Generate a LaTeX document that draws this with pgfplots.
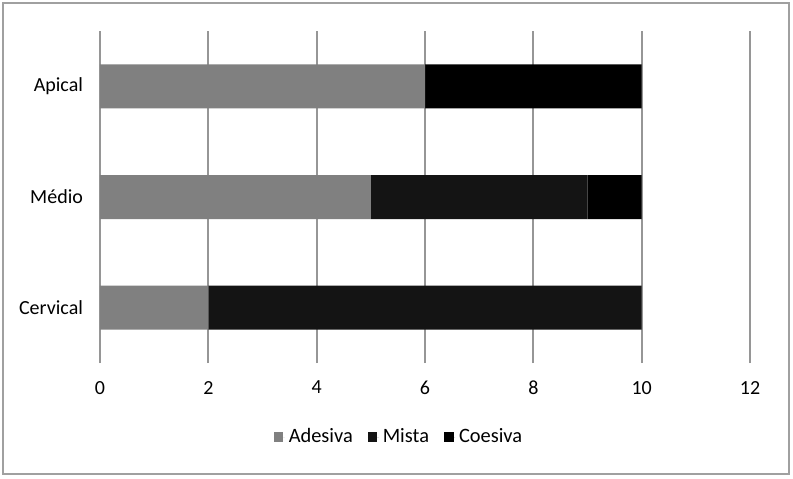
\documentclass[border=0pt]{standalone}
\usepackage{pgfplots}
\pgfplotsset{compat=1.18}
\usepackage{fontspec}
\setmainfont{Carlito}

\definecolor{adesiva}{RGB}{128,128,128}
\definecolor{mista}{RGB}{20,20,20}
\definecolor{coesiva}{RGB}{0,0,0}
\definecolor{gridgray}{RGB}{150,150,150}
\definecolor{framegray}{RGB}{160,160,160}

\begin{document}
\begin{tikzpicture}
\useasboundingbox (0pt,0pt) rectangle (396.5pt,239pt);
\draw[line width=1pt, framegray] (1.5pt,2pt) rectangle (394.5pt,237.5pt);
\begin{axis}[
  at={(50pt,57.5pt)}, anchor=south west,
  scale only axis, width=325pt, height=166pt,
  xbar stacked, bar width=22pt,
  xmin=0, xmax=12, xtick={0,2,...,12},
  ymin=-0.5, ymax=2.5, ytick={0,1,2},
  yticklabels={Cervical,Médio,Apical},
  xmajorgrids, grid style={gridgray, line width=0.9pt},
  axis line style={draw=none}, major tick style={draw=none},
  /pgf/number format/assume math mode=true,
  font=\fontsize{10}{12}\selectfont,
  xticklabel style={yshift=-5.5pt},
  yticklabel style={xshift=-5pt},
  legend style={at={(0.4615,-0.223)}, anchor=center, draw=none,
    legend columns=3, font=\fontsize{10.2}{12}\selectfont,
    /tikz/every even column/.append style={column sep=5.5pt}},
  legend image code/.code={\path (0pt,0pt) -- (5.5pt,0pt);
    \fill[#1] (0pt,-2.4pt) rectangle (4.8pt,2.4pt);},
]
\addplot[fill=adesiva, draw=none] coordinates {(2,0) (5,1) (6,2)};
\addplot[fill=mista, draw=none] coordinates {(8,0) (4,1) (0,2)};
\addplot[fill=coesiva, draw=none] coordinates {(0,0) (1,1) (4,2)};
\legend{Adesiva,Mista,Coesiva}
\end{axis}
\end{tikzpicture}
\end{document}
